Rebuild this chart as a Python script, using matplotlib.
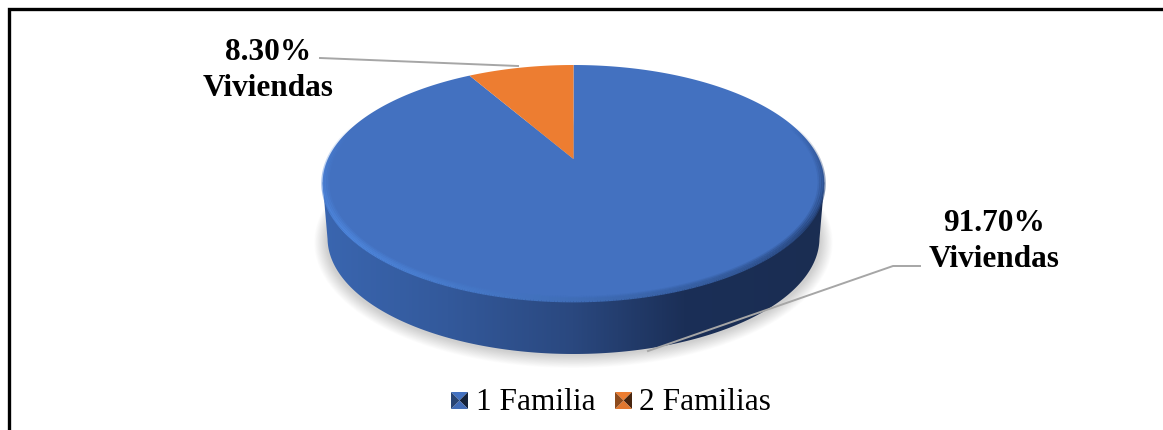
import numpy as np
import matplotlib
matplotlib.use("Agg")
import matplotlib.pyplot as plt
from matplotlib.patches import Polygon
from matplotlib.collections import LineCollection
from matplotlib.colors import to_rgb

categories = ["1 Familia", "2 Familias"]
shares = [91.70, 8.30]
label_lines = ["91.70%\nViviendas", "8.30%\nViviendas"]
colors = ["#4371C0", "#ED7D31"]

W, H = 1163, 430
plt.rcParams["font.family"] = ["Liberation Serif", "DejaVu Serif"]
fig = plt.figure(figsize=(W / 100, H / 100), dpi=100)
ax = fig.add_axes([0, 0, 1, 1])
ax.set_xlim(0, W)
ax.set_ylim(H, 0)
ax.axis("off")


# perspective view of the pie: unit circle -> image pixels
def project(u, v, cx=573.5, y_top=65.0, y_mid=159.0, y_bot=301.0, half=245.6):
    c = ((y_mid - y_top) - (y_bot - y_mid)) / (y_top - y_bot)
    a = y_top * (1 + c) - y_mid
    d = 1 + c * v
    return cx + half * u / d, (a * v + y_mid) / d


def ring(t, **kw):
    return project(np.sin(t), np.cos(t), **kw)


t = np.linspace(0, 2 * np.pi, 721)
low = dict(y_top=122.0, y_mid=216.0, y_bot=354.0, half=241.5)

# soft shadow
for i in range(16):
    sx, sy = ring(t, y_top=126.0 - i * .6, y_mid=220.0, y_bot=356.0 + i * .8, half=243.0 + i * .8)
    ax.add_patch(Polygon(np.c_[sx, sy], fc="black", ec="none", alpha=0.012, zorder=1))

# side wall with a left-to-right gradient
grad_pos = [0.0, 0.25, 0.5, 0.72, 1.0]
grad_col = ["#3A66B0", "#33599B", "#2A487F", "#1B2F57", "#1A2D52"]
g = np.linspace(0, 1, 512)
rgb = np.stack([np.interp(g, grad_pos, [to_rgb(c)[k] for c in grad_col]) for k in range(3)], axis=-1)[None, :, :]
im = ax.imshow(rgb, extent=[322, 825, 360, 150], aspect="auto", zorder=2)
span = np.linspace(np.pi / 2 + 0.2, 3 * np.pi / 2 - 0.2, 400)
wx, wy = ring(span, **low)
top_x, top_y = ring(np.array([3 * np.pi / 2 - 0.2, np.pi / 2 + 0.2]))
clip = Polygon(np.r_[np.c_[wx, wy], np.c_[top_x, top_y]], closed=True, fc="none", ec="none")
ax.add_patch(clip)
im.set_clip_path(clip)
ax.set_xlim(0, W)
ax.set_ylim(H, 0)

# top of the pie, slices clockwise from twelve o'clock
fractions = np.array(shares) / sum(shares)
starts = np.r_[0, np.cumsum(fractions)[:-1]]
apex = project(0.0, 0.0)
for frac, st, col in zip(fractions, starts, colors):
    a = np.linspace(st, st + frac, 400) * 2 * np.pi
    ex, ey = ring(a)
    ax.add_patch(Polygon(np.r_[[apex], np.c_[ex, ey]], fc=col, ec="none", zorder=3))

# rounded rim: light at the lower left, melting into the dark wall at the right
light = np.array(to_rgb("#4E86DC"))
dark = np.array(to_rgb("#27457C"))
front = (t > np.pi / 2 - 0.35) & (t < 3 * np.pi / 2 + 0.35)
tf = t[front]
for k, (inset, w) in enumerate([(0.0, 2.0), (0.007, 2.0), (0.014, 2.0), (0.021, 1.8)]):
    s = 1 - inset
    rx, ry = project(s * np.sin(tf), s * np.cos(tf))
    segs = np.stack([np.c_[rx[:-1], ry[:-1]], np.c_[rx[1:], ry[1:]]], axis=1)
    mid = (tf[:-1] + tf[1:]) / 2
    fade = np.clip((0.3 - np.cos(mid)) / 0.9, 0, 1)
    mix = np.clip(0.5 - np.sin(mid) * 0.6, 0, 1)[:, None]
    edge = dark + (light - dark) * mix ** 0.7
    rgba = np.c_[edge, fade * (1 - k * 0.24)]
    ax.add_collection(LineCollection(segs, colors=rgba, linewidths=w, zorder=4, capstyle="butt"))

# leader lines
ax.plot([320, 518], [58, 66], color="#A6A6A6", lw=1.4, zorder=5)
ax.plot([920, 893, 648], [266, 266, 351], color="#A6A6A6", lw=1.4, zorder=5)

# data labels
ax.text(994, 241.5, label_lines[0], ha="center", va="center", fontsize=22.5, fontweight="bold",
        color="black", linespacing=1.33, zorder=6)
ax.text(268, 70.5, label_lines[1], ha="center", va="center", fontsize=22.5, fontweight="bold",
        color="black", linespacing=1.33, zorder=6)


# legend: bevelled squares and names
def key(xl, col):
    yt, s = 392.0, 17.0
    base_c = np.array(to_rgb(col))
    c = (xl + s / 2, yt + s / 2)
    corners = [(xl, yt), (xl + s, yt), (xl + s, yt + s), (xl, yt + s)]
    shades = [1.0, 0.3, 0.95, 0.6]
    for i, sh in enumerate(shades):
        ax.add_patch(Polygon([corners[i], corners[(i + 1) % 4], c], fc=np.clip(base_c * sh, 0, 1), ec="none", zorder=6))


for name, col, kx, tx in zip(categories, colors, [451, 615], [476, 639]):
    key(kx, col)
    ax.text(tx, 403, name, ha="left", va="center", fontsize=22.6, color="black", zorder=6)

# frame: only the left and top edges are drawn
ax.plot([8.7, 8.7, 1164], [431, 8.7, 8.7], color="black", lw=2.4, zorder=7, solid_joinstyle="miter")

fig.savefig("out.png", dpi=100, facecolor="white")
